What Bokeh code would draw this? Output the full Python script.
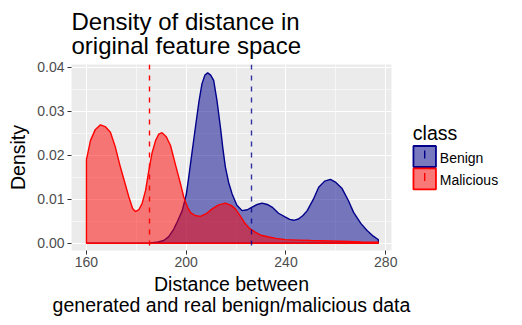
from bokeh.plotting import figure
from bokeh.models import FixedTicker, NumeralTickFormatter
from bokeh.layouts import row
from bokeh.core.properties import value
from bokeh.embed import file_html
from bokeh.resources import INLINE

# ---- data ----
classes = ["Benign", "Malicious"]
class_means = [226.0, 185.1]

benign_x = [160, 185, 188, 191, 193, 195, 196.5, 198.4, 200, 201.0, 202.3, 203.7, 205, 206.3,
            207.5, 208.6, 209.8, 211.0, 212.3, 213.7, 214.7, 215.7, 217, 218.4, 220.3, 222.4,
            224.5, 226.4, 228.5, 230.4, 232.5, 234.4, 237, 239.8, 241.5, 243.1, 245, 246.8,
            248.5, 251, 253.1, 255.5, 257.8, 260, 262.5, 265, 267.1, 270, 272.5, 275, 276.5, 277]
benign_y = [0.0000, 0.0000, 0.0002, 0.0006, 0.0015, 0.0032, 0.0050, 0.0074, 0.0110, 0.0150,
            0.0205, 0.0264, 0.0318, 0.0362, 0.0382, 0.0387, 0.0382, 0.0370, 0.0325, 0.0264,
            0.0215, 0.0173, 0.0138, 0.0112, 0.0086, 0.0074, 0.0076, 0.0082, 0.0088, 0.0091,
            0.0088, 0.0082, 0.0068, 0.0059, 0.0054, 0.0052, 0.0055, 0.0063, 0.0074, 0.0100,
            0.0127, 0.0141, 0.0145, 0.0138, 0.0124, 0.0097, 0.0070, 0.0045, 0.0029, 0.0016,
            0.0010, 0.0008]

malicious_x = [160, 161.6, 163.5, 165.6, 167.5, 169.6, 171.5, 173.6, 175.5, 177.0, 178.5, 179.6,
               181, 182.3, 183.7, 185.0, 186.3, 187.7, 189, 190.3, 192, 193.7, 195.7, 197.7, 199,
               200.5, 201.7, 203.5, 205.7, 208, 210.4, 213, 215.7, 218, 219.7, 221.5, 223.7,
               225.5, 227.7, 230, 233.1, 236, 239.8, 245, 250, 257.8, 265, 270, 277]
malicious_y = [0.0190, 0.0233, 0.0258, 0.0269, 0.0265, 0.0252, 0.0220, 0.0173, 0.0135, 0.0105,
               0.0079, 0.0072, 0.0076, 0.0090, 0.0120, 0.0165, 0.0205, 0.0233, 0.0248, 0.0251,
               0.0242, 0.0222, 0.0178, 0.0135, 0.0105, 0.0082, 0.0070, 0.0063, 0.0061, 0.0067,
               0.0078, 0.0087, 0.0091, 0.0086, 0.0078, 0.0063, 0.0044, 0.0033, 0.0025, 0.0018,
               0.0014, 0.0011, 0.0008, 0.0007, 0.0006, 0.0005, 0.0004, 0.0003, 0.0002]

x_ticks = [160, 200, 240, 280]
x_minor = [180, 220, 260]
y_ticks = [0.00, 0.01, 0.02, 0.03, 0.04]
y_minor = [0.005, 0.015, 0.025, 0.035]

line_colors = ["#00008B", "#FF0000"]
fill_colors = ["#00008B", "#FF0000"]

FONT = "Liberation Sans"

p = figure(width=411, height=325, x_range=(154.0, 282.3), y_range=(-0.00166, 0.0406),
           output_backend="svg", toolbar_location=None,
           min_border_left=71, min_border_right=20, min_border_top=64, min_border_bottom=75,
           title="Density of distance in\noriginal feature space")

p.background_fill_color = "#EBEBEB"
p.border_fill_color = "white"
p.outline_line_color = None

p.title.text_font = FONT
p.title.text_font_size = "24px"
p.title.text_font_style = "normal"
p.title.text_color = "black"
p.title.align = "left"
p.title.standoff = 10
p.title.text_line_height = 0.9

# grids
p.xaxis.ticker = FixedTicker(ticks=x_ticks, minor_ticks=x_minor)
p.yaxis.ticker = FixedTicker(ticks=y_ticks, minor_ticks=y_minor)
p.yaxis.formatter = NumeralTickFormatter(format="0.00")
for g in (p.xgrid, p.ygrid):
    g.grid_line_color = "white"
    g.grid_line_width = 1.1
    g.minor_grid_line_color = "white"
    g.minor_grid_line_width = 0.55

for ax in (p.xaxis, p.yaxis):
    ax.axis_line_color = None
    ax.major_tick_line_color = "#333333"
    ax.major_tick_line_width = 1.0
    ax.major_tick_out = 4
    ax.major_tick_in = 0
    ax.minor_tick_out = 0
    ax.minor_tick_in = 0
    ax.major_label_text_font = FONT
    ax.major_label_text_font_size = "14px"
    ax.major_label_text_color = "#4D4D4D"
    ax.axis_label_text_font = FONT
    ax.axis_label_text_font_size = "19.5px"
    ax.axis_label_text_font_style = "normal"
    ax.axis_label_text_color = "black"
    ax.axis_label_text_line_height = 0.97

p.xaxis.axis_label = "Distance between\ngenerated and real benign/malicious data"
p.yaxis.axis_label = "Density"
p.xaxis.major_label_standoff = 2
p.yaxis.major_label_standoff = 3
p.xaxis.axis_label_standoff = 3
p.yaxis.axis_label_standoff = 5

# density areas (polygon closed along y = 0)
xs_all = [benign_x, malicious_x]
ys_all = [benign_y, malicious_y]
for xs, ys, lc, fc in zip(xs_all, ys_all, line_colors, fill_colors):
    px = [xs[0]] + xs + [xs[-1]]
    py = [0.0] + ys + [0.0]
    p.patch(px, py, fill_color=fc, fill_alpha=0.5, line_color=lc, line_width=1.4)

for m, lc in zip(class_means, line_colors):
    p.vspan(x=[m], line_color=lc, line_dash="5 6", line_width=1.4,
            line_alpha=0.8 if lc == "#00008B" else 1.0)

# ---- legend panel (separate small figure; its frame is aligned with the main frame,
#      so y maps 1:1 to page pixels between 64 (top) and 250 (bottom)) ----
lg = figure(width=111, height=325, x_range=(0, 111), y_range=(250, 64),
            output_backend="svg", toolbar_location=None,
            min_border_left=0, min_border_right=0, min_border_top=64, min_border_bottom=75,
            x_axis_location=None, y_axis_location=None)
lg.xgrid.visible = False
lg.ygrid.visible = False
lg.outline_line_color = None
lg.background_fill_color = "white"
lg.border_fill_color = "white"

key_x = 13.2
key_y = [156, 178.4]
lg.text(x=[1.3], y=[132.6], text=["class"], text_font=value(FONT), text_font_size="19.5px",
        text_color="black", text_baseline="middle", text_align="left")
lg.rect(x=[key_x] * 2, y=key_y, width=22.5, height=21, fill_color="#F2F2F2", line_color=None)
lg.rect(x=[key_x] * 2, y=key_y, width=22.5, height=21, fill_color=fill_colors, fill_alpha=0.5,
        line_color=line_colors, line_width=1.8)
lg.segment(x0=[key_x] * 2, y0=[yy - 6 for yy in key_y], x1=[key_x] * 2, y1=[yy + 2 for yy in key_y],
           line_color=line_colors, line_width=1.4)
lg.text(x=[28.3] * 2, y=[yy + 1 for yy in key_y], text=classes, text_font=value(FONT),
        text_font_size="14px", text_color="black", text_baseline="middle", text_align="left")

layout = row(p, lg, spacing=0)
open("out.html", "w").write(file_html(layout, INLINE))
